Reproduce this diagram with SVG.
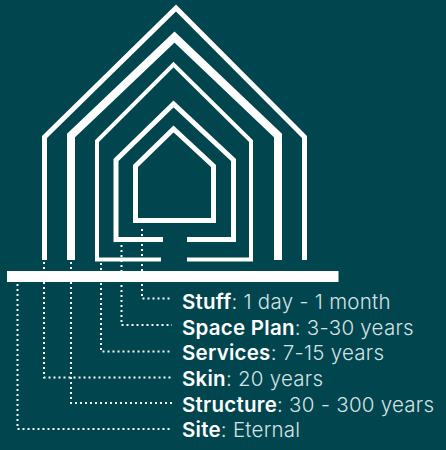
<svg xmlns="http://www.w3.org/2000/svg" width="446" height="450" viewBox="0 0 446 450">
<style>
.h{fill:none;stroke:#fff;stroke-linejoin:miter;stroke-miterlimit:10}
.d{fill:none;stroke:#fff;stroke-width:2;stroke-dasharray:2 3}
text{font-family:Inter,"Liberation Sans",sans-serif;font-size:20.5px;fill:#fff;letter-spacing:.25px}
.v{font-weight:300;fill:#d5e2e4}
.b{font-weight:600}
</style>
<rect width="446" height="450" fill="#01454f"/>
<g id="connectors">
<path class="d" d="M142 229V298.500H172"/>
<path class="d" d="M121.500 245V325H172"/>
<path class="d" d="M101 263V351.500H172"/>
<path class="d" d="M44 262V377.500H172"/>
<path class="d" d="M71 262V403H172"/>
<path class="d" d="M17.500 284V429H172"/>
</g>
<g id="skin"><path class="h" stroke-width="5" d="M44.500 260V137L176 8L304.500 137V260"/></g>
<g id="structure"><path class="h" stroke-width="8" d="M71 260V135.500L174.500 37L278 135.500V260"/></g>
<g id="services"><path class="h" stroke-width="4" d="M161 259.500H97V141L173.500 64.500L251 141V259.500H187"/></g>
<g id="spaceplan"><path class="h" stroke-width="5" d="M163 239.500H116V160L173.500 104L233.500 160V239.500H187"/></g>
<g id="stuff"><path class="h" stroke-width="5" d="M135.500 220.500V166L173.500 129L213.500 166V220.500Z"/></g>
<g id="site"><rect x="7" y="271" width="331.500" height="11" fill="#fff"/></g>
<g id="labels">
<text x="182" y="309"><tspan class="b">Stuff</tspan><tspan class="v">: 1 day - 1 month</tspan></text>
<text x="182" y="334.500"><tspan class="b">Space Plan</tspan><tspan class="v">: 3-30 years</tspan></text>
<text x="182" y="360"><tspan class="b">Services</tspan><tspan class="v">: 7-15 years</tspan></text>
<text x="182" y="386"><tspan class="b">Skin</tspan><tspan class="v">: 20 years</tspan></text>
<text x="182" y="411.500"><tspan class="b">Structure</tspan><tspan class="v">: 30 - 300 years</tspan></text>
<text x="182" y="437"><tspan class="b">Site</tspan><tspan class="v">: Eternal</tspan></text>
</g>
</svg>
